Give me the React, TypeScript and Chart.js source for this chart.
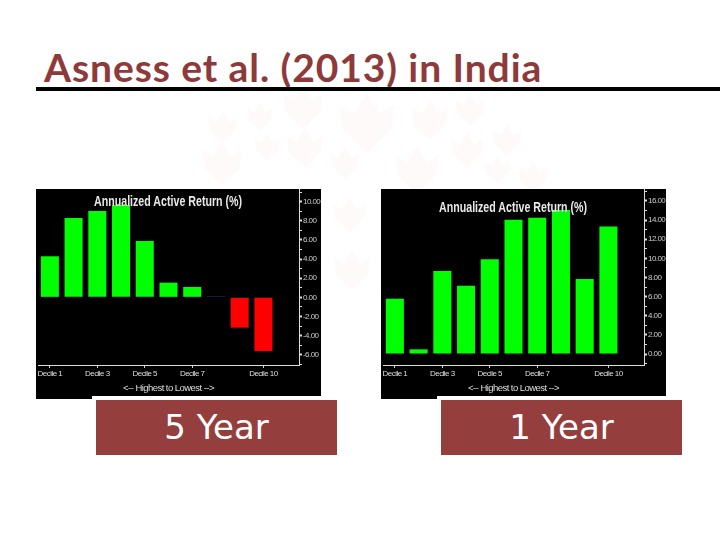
import { useEffect, useRef } from "react";
import { Chart, registerables } from "chart.js";
Chart.register(...registerables);

const deciles = ["Decile 1", "", "Decile 3", "", "Decile 5", "", "Decile 7", "", "", "Decile 10", ""];
const fiveYear = [4.29, 8.29, 9.02, 9.65, 5.89, 1.53, 1.08, 0.1, -3.17, -5.6, null];
const oneYear = [5.78, 0.49, 8.68, 7.14, 9.9, 14.04, 14.25, 15.05, 7.84, 13.34, null];
const chartTitle = "Annualized Active Return (%)";
const xTitle = "<-- Highest to Lowest -->";

// faint leaves of the slide's background logo: x, y, scale
const leaves = [
  [223, 127, 0.8], [260, 117, 0.7], [303, 107, 1.1], [367, 123, 1.5], [430, 120, 1.0], [470, 110, 0.8],
  [267, 147, 0.7], [305, 148, 1.0], [222, 163, 1.1], [345, 163, 0.8], [417, 170, 1.2], [467, 150, 0.9],
  [507, 140, 0.8], [497, 170, 0.7], [533, 177, 0.8], [350, 215, 0.9], [352, 270, 1.0],
];

const sans = '"Liberation Sans", sans-serif';

const barColor = (v: number) => {
  if (v < 0) return "#ff0000";
  if (v <= 0.1) return "#1f3f8f";
  return "#00ff00";
};

// no narrow font installed, so squeeze the canvas text a bit
const tightText = {
  id: "tightText",
  beforeDraw: (chart: any) => {
    chart.ctx.letterSpacing = "-0.55px";
  },
};

const Panel = ({ values, yMin, yMax, left, titleTop }: { values: (number | null)[]; yMin: number; yMax: number; left: number; titleTop: number }) => {
  const ref = useRef<HTMLCanvasElement>(null);

  useEffect(() => {
    const chart = new Chart(ref.current!, {
      type: "bar",
      plugins: [tightText],
      data: {
        labels: deciles,
        datasets: [
          {
            data: values,
            backgroundColor: values.map((v) => barColor(v ?? 0)),
            categoryPercentage: 1,
            barPercentage: 0.76,
          },
        ],
      },
      options: {
        responsive: false,
        animation: false,
        layout: { autoPadding: false, padding: { left: 2, top: 0, right: 0, bottom: 0 } },
        plugins: { legend: { display: false }, tooltip: { enabled: false } },
        scales: {
          x: {
            grid: { display: true, drawOnChartArea: false, offset: false, tickLength: 3, tickColor: (c: any) => (deciles[c.index] ? "#cccccc" : "transparent") },
            border: { color: "#dddddd", width: 1 },
            ticks: { color: "#dddddd", font: { family: sans, size: 8 }, autoSkip: false, maxRotation: 0, padding: 1 },
            title: { display: true, text: xTitle, color: "#dddddd", font: { family: sans, size: 9.5 }, padding: { top: 3, bottom: 5 } },
            afterFit: (s: any) => {
              s.height = 34;
              s.paddingLeft = 0;
              s.paddingRight = 0;
            },
          },
          y: {
            position: "right",
            min: yMin,
            max: yMax,
            grid: { drawOnChartArea: false, tickLength: 3, tickColor: "#dddddd", tickWidth: (c: any) => (c.tick.value % 2 === 0 ? 2 : 1) },
            border: { color: "#dddddd", width: 1 },
            ticks: {
              stepSize: 1,
              includeBounds: false,
              autoSkip: false,
              color: "#cccccc",
              padding: 1,
              font: { family: sans, size: 8 },
              callback: (v: any) => (Number(v) % 2 === 0 ? Number(v).toFixed(2) : ""),
            },
            afterFit: (s: any) => {
              s.width = 22;
              s.paddingTop = 0;
              s.paddingBottom = 0;
            },
          },
        },
      },
    });
    return () => chart.destroy();
  }, []);

  return (
    <div style={{ position: "absolute", left, top: 189, width: 285, height: 210, background: "#000" }}>
      <canvas ref={ref} width={285} height={210} style={{ display: "block" }} />
      <div style={{ position: "absolute", left: 58, top: titleTop, fontFamily: sans, fontSize: 15, fontWeight: 700, color: "#e8e8e8", whiteSpace: "nowrap", transform: "scaleX(0.71)", transformOrigin: "left top" }}>{chartTitle}</div>
    </div>
  );
};

const Caption = ({ left, text }: { left: number; text: string }) => (
  <>
    <div style={{ position: "absolute", left: left - 4, top: 396, width: 245, height: 4, background: "#fff" }} />
    <div style={{ position: "absolute", left, top: 400, width: 241, height: 55, background: "#953e3e", color: "#fff", fontFamily: '"DejaVu Sans", sans-serif', fontSize: 34, lineHeight: "55px", textAlign: "center" }}>{text}</div>
  </>
);

export default function App() {
  useEffect(() => {
    document.body.style.margin = "0";
  }, []);

  return (
    <div style={{ position: "relative", width: 720, height: 540, background: "#fff", overflow: "hidden" }}>
      <svg width={720} height={540} style={{ position: "absolute", left: 0, top: 0 }}>
        {leaves.map(([x, y, k], i) => (
          <path key={i} transform={`translate(${x} ${y}) scale(${k})`} fill="#fefaf9" d="M0 20 L-16 4 L-18 -12 L-8 -6 L0 -20 L8 -6 L18 -12 L16 4 Z" />
        ))}
      </svg>
      <div style={{ position: "absolute", left: 44, top: 44, fontFamily: "Lato, sans-serif", fontWeight: 700, fontSize: 39, letterSpacing: 0.92, lineHeight: "46px", color: "#8e3a3a", whiteSpace: "nowrap" }}>Asness et al. (2013) in India</div>
      <div style={{ position: "absolute", left: 36, top: 87, width: 684, height: 4, background: "#000" }} />
      <Panel values={fiveYear} yMin={-7.07} yMax={11.32} left={36} titleTop={3} />
      <Panel values={oneYear} yMin={-1.15} yMax={17.25} left={381} titleTop={9} />
      <Caption left={96} text="5 Year" />
      <Caption left={441} text="1 Year" />
    </div>
  );
}
